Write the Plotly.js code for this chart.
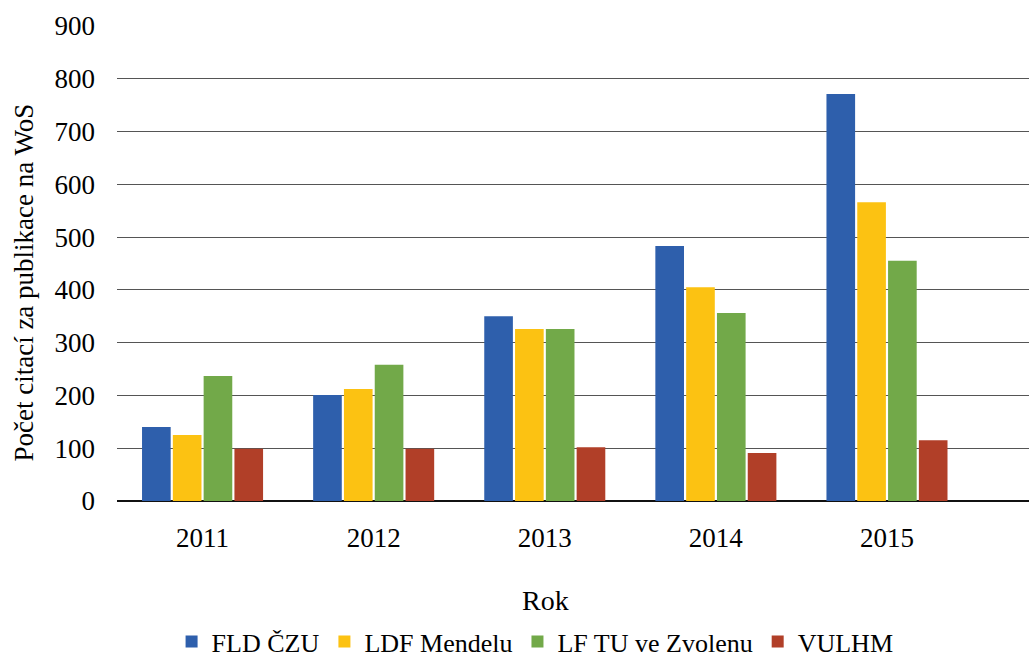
<!DOCTYPE html>
<html>
<head>
<meta charset="utf-8">
<script src="https://cdn.plot.ly/plotly-3.0.1.min.js"></script>
<style>
  html, body { margin: 0; padding: 0; background: #fff; }
  #chart { width: 1029px; height: 660px; }
</style>
</head>
<body>
<div id="chart"></div>
<script>
// years on the x axis
const YEARS = ['2011', '2012', '2013', '2014', '2015'];

// citations per series
const FLD_CZU = [140, 201, 350, 483, 771];
const LDF_MENDELU = [125, 212, 326, 405, 566];
const LF_TU_ZVOLEN = [237, 258, 326, 356, 455];
const VULHM = [99, 99, 102, 91, 115];

const SERIES_NAMES = ['FLD ČZU', 'LDF Mendelu', 'LF TU ve Zvolenu', 'VULHM'];
const COLORS = ['#2E5FAC', '#FCC212', '#72A949', '#B13F28'];

const FONT = 'Liberation Serif, DejaVu Serif, serif';

let values = [FLD_CZU, LDF_MENDELU, LF_TU_ZVOLEN, VULHM];
let traces = [];
for (let i = 0; i < values.length; i++) {
  traces.push({
    type: 'bar',
    x: YEARS,
    y: values[i],
    name: SERIES_NAMES[i],
    marker: { color: COLORS[i], line: { width: 0 } },
    hoverinfo: 'x+y+name'
  });
}

let layout = {
  width: 1029,
  height: 660,
  margin: { l: 117, r: 0, t: 26, b: 159 },
  paper_bgcolor: '#fff',
  plot_bgcolor: '#fff',
  font: { family: FONT, color: '#000', size: 26 },
  barmode: 'group',
  bargap: 0.28,
  bargroupgap: 0.07,
  showlegend: true,
  legend: {
    orientation: 'h',
    xref: 'container',
    yref: 'container',
    x: 0.52,
    xanchor: 'center',
    y: 0.028,
    yanchor: 'middle',
    font: { family: FONT, size: 26, color: '#000' },
    itemwidth: 30,
    tracegroupgap: 0
  },
  xaxis: {
    type: 'category',
    range: [-0.5, 4.83],
    showgrid: false,
    showline: false,
    zeroline: false,
    ticks: '',
    ticklabelstandoff: 18,
    tickfont: { family: FONT, size: 27 }
  },
  yaxis: {
    range: [0, 900],
    dtick: 100,
    showgrid: true,
    gridcolor: '#555',
    gridwidth: 1.4,
    zeroline: true,
    zerolinecolor: '#111',
    zerolinewidth: 2,
    showline: false,
    ticks: '',
    ticklabelstandoff: 21,
    tickfont: { family: FONT, size: 27 }
  },
  annotations: [{
    // y axis title, placed by hand so it sits at the left edge
    text: 'Počet citací za publikace na WoS',
    xref: 'paper',
    yref: 'paper',
    x: -0.103,
    y: 0.46,
    xanchor: 'center',
    yanchor: 'middle',
    textangle: -90,
    showarrow: false,
    font: { family: FONT, size: 27, color: '#000' }
  }, {
    text: 'Rok',
    xref: 'paper',
    yref: 'paper',
    x: 0.47,
    y: -0.21,
    xanchor: 'center',
    yanchor: 'middle',
    showarrow: false,
    font: { family: FONT, size: 28, color: '#000' }
  }]
};

Plotly.newPlot('chart', traces, layout, { displayModeBar: false, responsive: false });
</script>
</body>
</html>
